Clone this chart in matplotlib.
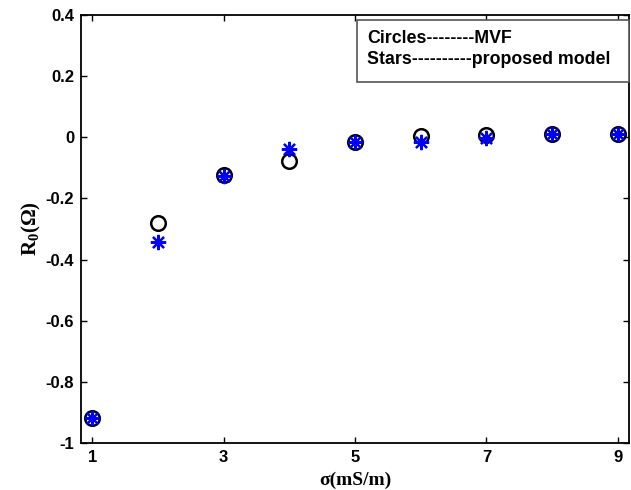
import numpy as np
import matplotlib
matplotlib.use('Agg')
import matplotlib.pyplot as plt
from matplotlib.patches import Rectangle

# Data
sigma = [1, 2, 3, 4, 5, 6, 7, 8, 9]
r0_mvf = [-0.918, -0.279, -0.125, -0.079, -0.016, 0.003, 0.007, 0.010, 0.010]
r0_model = [-0.918, -0.344, -0.128, -0.039, -0.016, -0.016, -0.003, 0.010, 0.010]

xticks = [1, 3, 5, 7, 9]
yticks = [-1, -0.8, -0.6, -0.4, -0.2, 0, 0.2, 0.4]
ytick_labels = ['-1', '-0.8', '-0.6', '-0.4', '-0.2', '0', '0.2', '0.4']

plt.rcParams['font.family'] = 'Liberation Sans'
plt.rcParams['mathtext.fontset'] = 'custom'
plt.rcParams['mathtext.rm'] = 'Liberation Serif:bold'
plt.rcParams['mathtext.it'] = 'Liberation Serif:bold'
plt.rcParams['mathtext.bf'] = 'Liberation Serif:bold'

fig = plt.figure(figsize=(6.31, 4.9), dpi=100)
ax = fig.add_axes([81 / 631, 1 - 443 / 490, 548 / 631, 428 / 490])

# circles first, stars on top
ax.plot(sigma, r0_mvf, linestyle='none', marker='o', markersize=10.5,
        markerfacecolor='none', markeredgecolor='black', markeredgewidth=1.8)
ax.plot(sigma, r0_model, linestyle='none', marker=(8, 2, 0), markersize=11,
        color='blue', markeredgewidth=1.6)

ax.set_xlim(0.83, 9.17)
ax.set_ylim(-1, 0.4)
ax.set_xticks(xticks)
ax.set_xticklabels([str(t) for t in xticks])
ax.set_yticks(yticks)
ax.set_yticklabels(ytick_labels)
ax.tick_params(direction='in', length=4, width=1, top=True, right=True,
               labelsize=12, pad=5)
for lab in ax.get_xticklabels() + ax.get_yticklabels():
    lab.set_fontweight('bold')
for sp in ax.spines.values():
    sp.set_linewidth(1.3)

ax.set_xlabel('σ(mS/m)', fontfamily='Liberation Serif', fontweight='bold',
              fontsize=14, labelpad=5)
ax.set_ylabel('R$_0$(Ω)', fontfamily='Liberation Serif', fontweight='bold',
              fontsize=15, labelpad=2)

# text box acting as legend
ax.add_patch(Rectangle((0.504, 0.843), 0.496, 0.145, transform=ax.transAxes,
                       facecolor='white', edgecolor='#555555', linewidth=1.2,
                       clip_on=False, zorder=5))
ax.text(0.522, 0.946, 'Circles--------MVF', transform=ax.transAxes,
        fontsize=12.8, fontweight='bold', va='center', zorder=6)
ax.text(0.522, 0.895, 'Stars----------proposed model', transform=ax.transAxes,
        fontsize=12.8, fontweight='bold', va='center', zorder=6)

fig.savefig('out.png', dpi=100)
